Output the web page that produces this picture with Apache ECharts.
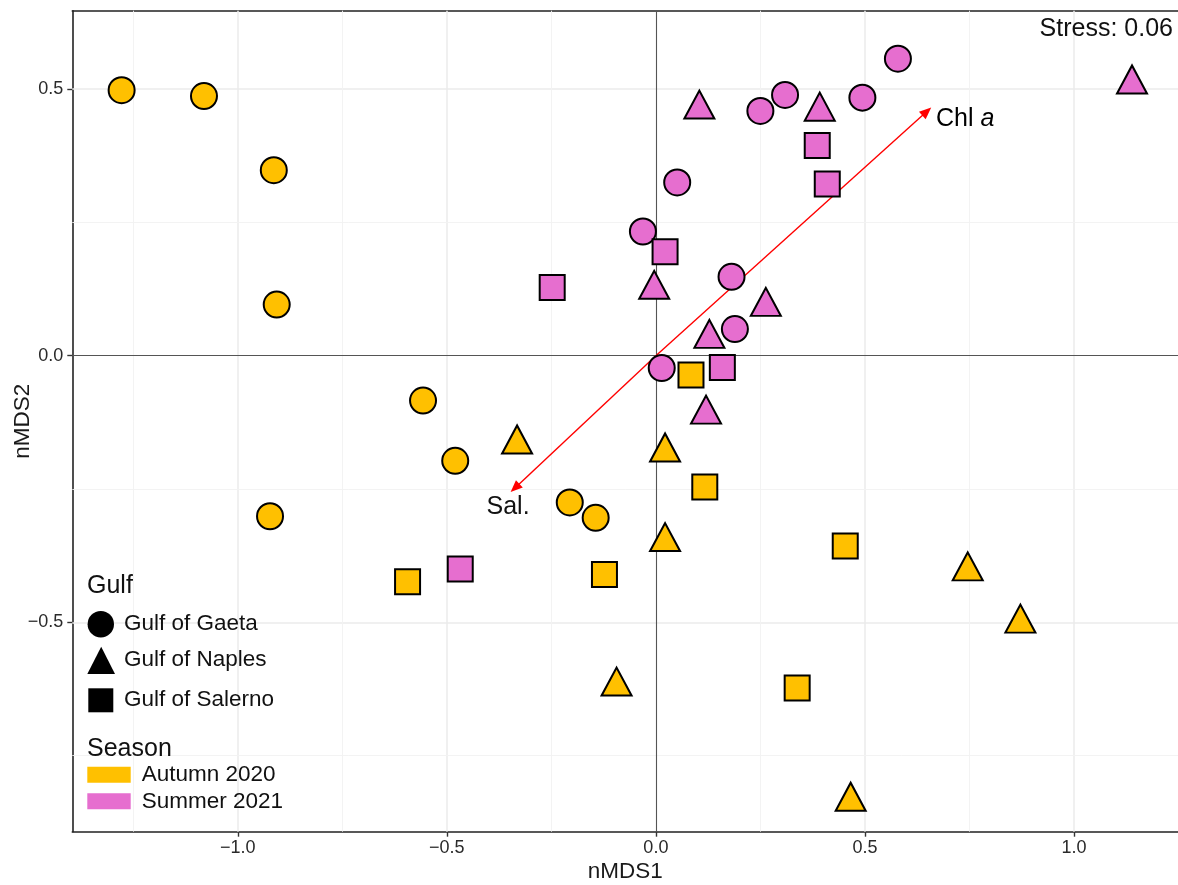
<!DOCTYPE html>
<html>
<head>
<meta charset="utf-8">
<script src="https://cdn.jsdelivr.net/npm/echarts@6/dist/echarts.min.js"></script>
<style>
html,body{margin:0;padding:0;background:#fff;}
#chart{width:1178px;height:885px;}
</style>
</head>
<body>
<div id="chart"></div>
<script>
// ---- data (nMDS1, nMDS2) ----
const autumnGaeta   = [[-1.278,0.498],[-1.081,0.487],[-0.914,0.348],[-0.907,0.096],[-0.557,-0.084],[-0.480,-0.197],[-0.206,-0.275],[-0.144,-0.304],[-0.923,-0.301]];
const autumnNaples  = [[-0.332,-0.157],[0.022,-0.172],[0.022,-0.340],[-0.094,-0.611],[0.466,-0.827],[0.746,-0.395],[0.872,-0.493]];
const autumnSalerno = [[-0.594,-0.424],[-0.123,-0.410],[0.084,-0.036],[0.117,-0.246],[0.338,-0.623],[0.453,-0.357]];
const summerGaeta   = [[-0.031,0.233],[0.051,0.325],[0.250,0.459],[0.309,0.489],[0.494,0.484],[0.579,0.557],[0.181,0.148],[0.189,0.050],[0.014,-0.023]];
const summerNaples  = [[0.104,0.471],[-0.004,0.133],[0.392,0.467],[1.139,0.518],[0.263,0.101],[0.128,0.041],[0.120,-0.101]];
const summerSalerno = [[0.386,0.394],[0.410,0.322],[0.022,0.195],[-0.248,0.128],[0.159,-0.022],[-0.468,-0.400]];
const arrowChl = [0.648, 0.458];
const arrowSal = [-0.337, -0.248];
const xTicks = [-1.0, -0.5, 0.0, 0.5, 1.0];
const yTicks = [-0.5, 0.0, 0.5];
const xMinor = [-1.25, -0.75, -0.25, 0.25, 0.75];
const yMinor = [-0.75, -0.25, 0.25];
const stressText = 'Stress: 0.06';

const YEL = '#FFC000', PINK = '#E66ECF';
const FONT = 'Liberation Sans, Arial, Helvetica, sans-serif';

const chart = echarts.init(document.getElementById('chart'));

function pts(data, color, symbol, size, name) {
  return {
    type: 'scatter', name: name, data: data, symbol: symbol, symbolSize: size, z: 5,
    itemStyle: { color: color, borderColor: '#000', borderWidth: 2, opacity: 1 },
    emphasis: { disabled: true }
  };
}

function fmt(v) {
  const s = Math.abs(v).toFixed(1);
  return v < 0 ? '\u2212' + s : s;
}

const gridLinesData = [];
xTicks.forEach(v => { if (v !== 0) gridLinesData.push({ xAxis: v, lineStyle: { color: '#EBEBEB', width: 1.5, type: 'solid' } }); });
yTicks.forEach(v => { if (v !== 0) gridLinesData.push({ yAxis: v, lineStyle: { color: '#EBEBEB', width: 1.5, type: 'solid' } }); });
xMinor.forEach(v => gridLinesData.push({ xAxis: v, lineStyle: { color: '#F2F2F2', width: 0.9, type: 'solid' } }));
yMinor.forEach(v => gridLinesData.push({ yAxis: v, lineStyle: { color: '#F2F2F2', width: 0.9, type: 'solid' } }));

const option = {
  animation: false,
  backgroundColor: '#fff',
  textStyle: { fontFamily: FONT },
  grid: { left: 72.3, top: 10.7, right: 0, bottom: 53.3, containLabel: false, outerBoundsMode: 'none' },
  xAxis: [{
    type: 'value', min: -1.396, max: 1.249,
    name: 'nMDS1', nameLocation: 'middle', nameGap: 29, nameMoveOverlap: false,
    nameTextStyle: { fontSize: 22.5, color: '#1a1a1a', fontFamily: FONT },
    axisLine: { show: true, onZero: false, lineStyle: { color: '#222', width: 1.6 } },
    axisTick: { show: true, length: 5, customValues: xTicks, lineStyle: { color: '#333', width: 1.4 } },
    axisLabel: { customValues: xTicks, formatter: fmt, fontSize: 18, color: '#2a2a2a', margin: 7, fontFamily: FONT },
    splitLine: { show: false }
  }, {
    type: 'value', min: -1.396, max: 1.249, position: 'top',
    axisLine: { show: true, onZero: false, lineStyle: { color: '#222', width: 1.6 } },
    axisTick: { show: false }, axisLabel: { show: false }, splitLine: { show: false }
  }],
  yAxis: {
    type: 'value', min: -0.8925, max: 0.647,
    name: 'nMDS2', nameLocation: 'middle', nameGap: 38, nameRotate: 90, nameMoveOverlap: false,
    nameTextStyle: { fontSize: 22.5, color: '#1a1a1a', fontFamily: FONT },
    axisLine: { show: true, onZero: false, lineStyle: { color: '#222', width: 1.6 } },
    axisTick: { show: true, length: 5, customValues: yTicks, lineStyle: { color: '#333', width: 1.4 } },
    axisLabel: { customValues: yTicks, formatter: fmt, fontSize: 18, color: '#2a2a2a', margin: 9, fontFamily: FONT },
    splitLine: { show: false }
  },
  series: [
    {
      type: 'scatter', data: [], z: 1, silent: true,
      markLine: {
        silent: true, symbol: ['none', 'none'], animation: false,
        label: { show: false },
        data: gridLinesData
      }
    },
    {
      type: 'scatter', data: [], z: 2, silent: true,
      markLine: {
        silent: true, symbol: ['none', 'none'], animation: false,
        label: { show: false },
        lineStyle: { color: '#555', width: 1.1, type: 'solid' },
        data: [{ xAxis: 0 }, { yAxis: 0 }]
      }
    },
    {
      type: 'scatter', data: [], z: 3, silent: true,
      markLine: {
        silent: true, animation: false, symbol: ['none', 'triangle'], symbolSize: [10, 12],
        label: { show: false },
        lineStyle: { color: '#FF0000', width: 1.4, type: 'solid' },
        itemStyle: { color: '#FF0000' },
        data: [
          [{ coord: [0, 0] }, { coord: arrowChl }],
          [{ coord: [0, 0] }, { coord: arrowSal }]
        ]
      }
    },
    pts(autumnGaeta, YEL, 'circle', 26, 'Autumn Gaeta'),
    pts(autumnNaples, YEL, 'triangle', [30, 28], 'Autumn Naples'),
    pts(autumnSalerno, YEL, 'rect', 25, 'Autumn Salerno'),
    pts(summerGaeta, PINK, 'circle', 26, 'Summer Gaeta'),
    pts(summerNaples, PINK, 'triangle', [30, 28], 'Summer Naples'),
    pts(summerSalerno, PINK, 'rect', 25, 'Summer Salerno')
  ],
  graphic: [
    { type: 'text', x: 1173, y: 29, z: 10, style: { text: stressText, align: 'right', verticalAlign: 'middle', fontSize: 25, fontFamily: FONT, fill: '#111' } },
    { type: 'text', x: 936, y: 119, z: 10, style: { text: '{n|Chl }{i|a}', verticalAlign: 'middle', align: 'left',
        rich: { n: { fontSize: 25, fontFamily: FONT, color: '#111' }, i: { fontSize: 25, fontFamily: FONT, fontStyle: 'italic', color: '#111' } } } },
    { type: 'text', x: 486.5, y: 507, z: 10, style: { text: 'Sal.', verticalAlign: 'middle', align: 'left', fontSize: 25, fontFamily: FONT, fill: '#111' } },
    // Gulf legend
    { type: 'text', x: 87, y: 586, z: 10, style: { text: 'Gulf', verticalAlign: 'middle', fontSize: 25, fontFamily: FONT, fill: '#111' } },
    { type: 'circle', z: 10, shape: { cx: 100.8, cy: 624.2, r: 13.2 }, style: { fill: '#000' } },
    { type: 'polygon', z: 10, shape: { points: [[101.2, 646.7], [87.3, 674], [115, 674]] }, style: { fill: '#000' } },
    { type: 'rect', z: 10, shape: { x: 88.3, y: 688.3, width: 25, height: 24 }, style: { fill: '#000' } },
    { type: 'text', x: 124, y: 623.5, z: 10, style: { text: 'Gulf of Gaeta', verticalAlign: 'middle', fontSize: 22.5, fontFamily: FONT, fill: '#111' } },
    { type: 'text', x: 124, y: 659.5, z: 10, style: { text: 'Gulf of Naples', verticalAlign: 'middle', fontSize: 22.5, fontFamily: FONT, fill: '#111' } },
    { type: 'text', x: 124, y: 700, z: 10, style: { text: 'Gulf of Salerno', verticalAlign: 'middle', fontSize: 22.5, fontFamily: FONT, fill: '#111' } },
    // Season legend
    { type: 'text', x: 87, y: 749, z: 10, style: { text: 'Season', verticalAlign: 'middle', fontSize: 25, fontFamily: FONT, fill: '#111' } },
    { type: 'rect', z: 10, shape: { x: 87.3, y: 766.7, width: 43.4, height: 16 }, style: { fill: YEL } },
    { type: 'rect', z: 10, shape: { x: 87.3, y: 793.3, width: 43.4, height: 16 }, style: { fill: PINK } },
    { type: 'text', x: 141.7, y: 775, z: 10, style: { text: 'Autumn 2020', verticalAlign: 'middle', fontSize: 22.5, fontFamily: FONT, fill: '#111' } },
    { type: 'text', x: 141.7, y: 801.5, z: 10, style: { text: 'Summer 2021', verticalAlign: 'middle', fontSize: 22.5, fontFamily: FONT, fill: '#111' } }
  ]
};
chart.setOption(option);
</script>
</body>
</html>
